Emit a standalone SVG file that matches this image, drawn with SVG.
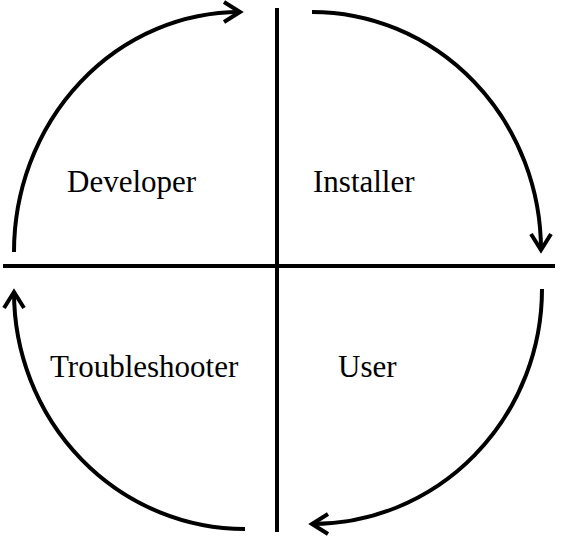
<svg xmlns="http://www.w3.org/2000/svg" width="567" height="539" viewBox="0 0 567 539">
<style>
.ln{stroke:#000;stroke-width:4;fill:none}
.arc{stroke:#000;stroke-width:4;fill:none;marker-end:url(#ah)}
text{font-family:"Liberation Serif","Times New Roman",serif;font-size:31px;fill:#000}
</style>
<defs>
<marker id="ah" markerUnits="userSpaceOnUse" markerWidth="30" markerHeight="30" refX="20" refY="15" orient="auto">
<path d="M4,5 L20,15 L4,25" stroke="#000" stroke-width="4" fill="none"/>
</marker>
</defs>
<g id="connectors">
<line class="ln" x1="277" y1="8" x2="277" y2="532"/>
<line class="ln" x1="3" y1="266" x2="555" y2="266"/>
<path class="arc" d="M14,252 A226,240 0 0 1 240,12"/>
<path class="arc" d="M312,12 A229,238 0 0 1 541,250"/>
<path class="arc" d="M542,289 A230,235 0 0 1 312,524"/>
<path class="arc" d="M245,529 A231,237 0 0 1 14,292"/>
</g>
<g id="developer"><text x="67" y="192">Developer</text></g>
<g id="installer"><text x="313" y="192">Installer</text></g>
<g id="troubleshooter"><text x="50" y="377">Troubleshooter</text></g>
<g id="user"><text x="338" y="377">User</text></g>
</svg>
